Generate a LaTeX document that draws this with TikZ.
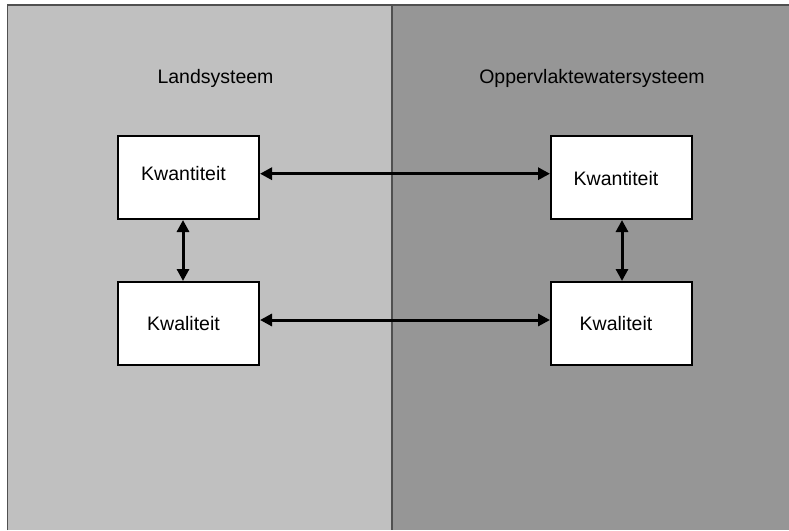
\documentclass[tikz,border=0pt]{standalone}
\usepackage{fontspec}
\setmainfont{Liberation Sans}
\usetikzlibrary{arrows.meta}
\definecolor{landgray}{HTML}{C0C0C0}
\definecolor{watergray}{HTML}{969696}
\definecolor{edgegray}{HTML}{505050}
\begin{document}
\begin{tikzpicture}[x=1pt,y=-1pt,
  box/.style={draw=black,line width=2pt,fill=white,minimum width=141pt,minimum height=83pt,inner sep=0pt},
  lbl/.style={font=\fontsize{19.5}{23}\selectfont,inner sep=0pt,anchor=center},
  arr/.style={line width=3pt,{Triangle[length=12pt,width=12pt]}-{Triangle[length=12pt,width=12pt]}}]
\useasboundingbox (0,0) rectangle (789,530);
\fill[white] (0,0) rectangle (789,530);
% panels
\fill[landgray] (7.5,5) rectangle (392,530);
\fill[watergray] (392,5) rectangle (789,530);
\draw[edgegray,line width=1.6pt] (7.5,530) -- (7.5,5) -- (789,5);
\draw[edgegray,line width=1.2pt] (392,5) -- (392,530);
% titles
\node[lbl] (tl) at (215.5,78) {Landsysteem};
\node[lbl] (tr) at (592,78) {Oppervlaktewatersysteem};
% boxes
\node[box] (lq) at (188.5,177.5) {};
\node[box] (lk) at (188.5,323.5) {};
\node[box] (rq) at (621.5,177.5) {};
\node[box] (rk) at (621.5,323.5) {};
\node[lbl] (lqt) at (183.5,174) {Kwantiteit};
\node[lbl] (lkt) at (183.5,324) {Kwaliteit};
\node[lbl] (rqt) at (616,179) {Kwantiteit};
\node[lbl] (rkt) at (616,324) {Kwaliteit};
% arrows
\draw[arr] ([yshift=3.8pt]lq.east) -- ([yshift=3.8pt]rq.west);
\draw[arr] ([yshift=3.5pt]lk.east) -- ([yshift=3.5pt]rk.west);
\draw[arr] ([xshift=-5.5pt]lq.south) -- ([xshift=-5.5pt]lk.north);
\draw[arr] ([xshift=0.5pt]rq.south) -- ([xshift=0.5pt]rk.north);
\end{tikzpicture}
\end{document}
